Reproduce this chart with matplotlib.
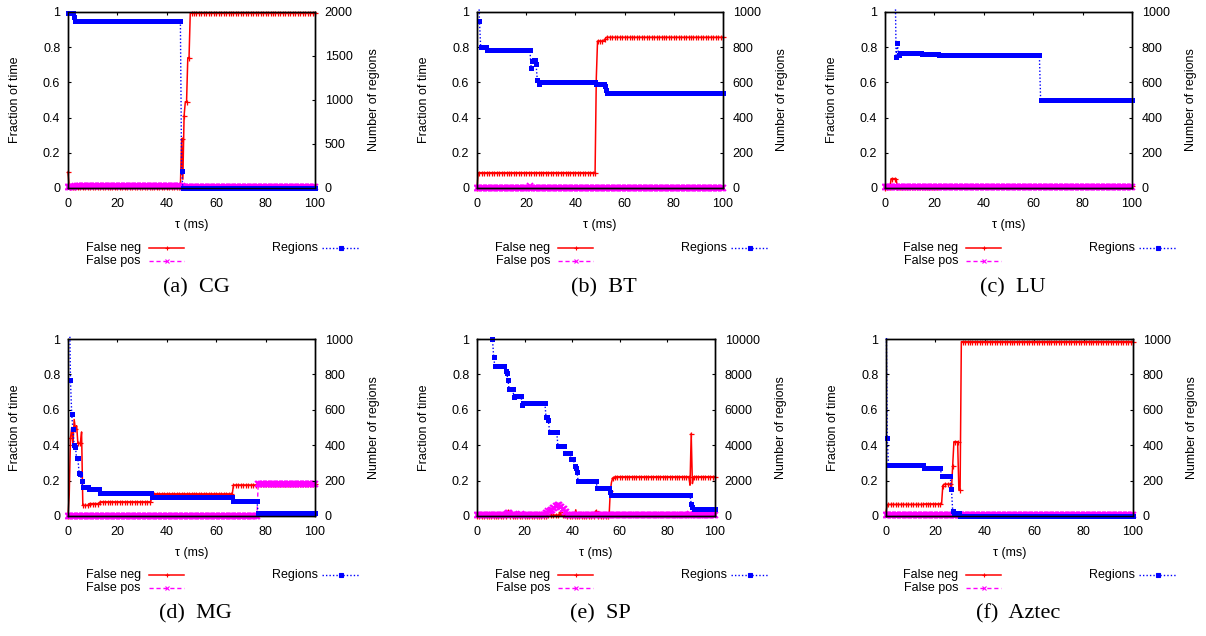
import numpy as np
import matplotlib
matplotlib.use('Agg')
import matplotlib.pyplot as plt
from matplotlib.lines import Line2D
from matplotlib.patches import Rectangle

plt.rcParams['font.family'] = ['Liberation Sans', 'DejaVu Sans']
plt.rcParams['font.size'] = 9

W, H = 1206, 636
TAU = np.arange(0, 100.25, 0.5)

# (tau ms, value) breakpoints, each value holds until the next one
cg_fneg = [(0, 0.09), (0.5, 0.005), (46, 0.28), (46.5, 0.05), (47, 0.41),
           (47.5, 0.49), (48.5, 0.74), (49.5, 0.995)]
cg_fpos = [(0, 0.005), (3, 0.012), (46.5, 0.005)]
cg_regions = [(0, 1985), (2.5, 1940), (3, 1898), (46, 189), (46.5, 0)]

bt_fneg = [(0, 0.0), (0.5, 0.087), (48.5, 0.627), (49, 0.835), (52, 0.845),
           (52.5, 0.856)]
bt_fpos = [(0, 0.002), (21.5, 0.012), (22, 0.002)]
bt_regions = [(0, 1200), (1, 947), (1.5, 800), (4, 786), (22, 682), (22.5, 720),
              (23, 725), (24, 706), (24.5, 615), (25, 593), (25.5, 600),
              (48.5, 590), (52, 578), (52.5, 555), (53, 540), (54, 537)]

lu_fneg = [(0, 0.0), (0.5, 0.005), (2.5, 0.053), (5, 0.005), (22, 0.01)]
lu_fpos = [(0, 0.003)]
lu_regions = [(0, 1300), (4.5, 744), (5, 824), (5.5, 754), (6, 767), (15, 762),
              (22, 757), (63, 502)]

mg_fneg = [(0, 0.0), (0.5, 0.12), (1, 0.44), (1.5, 0.5), (2, 0.4), (2.5, 0.545),
           (3, 0.49), (3.5, 0.51), (4, 0.41), (5.5, 0.475), (6, 0.06),
           (8.5, 0.07), (13, 0.08), (34, 0.125), (67, 0.175), (77, 0.18)]
mg_fpos = [(0, 0.0), (77, 0.18)]
mg_regions = [(0, 1300), (0.5, 1300), (1, 768), (1.5, 575), (2, 490), (2.5, 400),
              (3, 390), (3.5, 325), (4.5, 243), (5, 236), (5.5, 200), (6, 165),
              (8.5, 150), (13, 128), (34, 105), (67, 85), (77, 17)]

sp_fneg = [(0, 0.0), (13, 0.028), (13.5, 0.0), (30, 0.005), (35, 0.02),
           (35.5, 0.005), (38, 0.0), (41.5, 0.035), (42, 0.0), (50, 0.03),
           (50.5, 0.0), (56, 0.14), (56.5, 0.19), (57, 0.215), (58, 0.222),
           (89.5, 0.174), (90, 0.466), (90.5, 0.183), (91, 0.222)]
sp_fpos = [(0, 0.003), (6.5, 0.008), (7, 0.003), (12.5, 0.01), (13, 0.015),
           (14, 0.008), (15.5, 0.012), (16, 0.003), (18.5, 0.01), (19, 0.003),
           (29, 0.015), (30, 0.03), (31, 0.035), (32, 0.045), (33, 0.055),
           (34, 0.06), (35, 0.05), (36, 0.04), (37, 0.02), (38, 0.005),
           (89.5, 0.01), (90, 0.003)]
sp_regions = [(0, 14000), (6.5, 10000), (7, 9000), (7.5, 8450), (12, 8200),
              (12.5, 8060), (13, 7700), (13.5, 7150), (15.5, 6750), (16, 6800),
              (19, 6270), (19.5, 6400), (29, 5600), (30, 5400), (30.5, 4750),
              (34, 3970), (37, 3570), (39.5, 3200), (41, 2830), (41.5, 2700),
              (42, 2500), (42.5, 1970), (50.5, 1580), (56, 1360), (56.5, 1170),
              (90, 700), (90.5, 500), (91, 380)]

az_fneg = [(0, 0.02), (0.5, 0.065), (15.5, 0.068), (23, 0.172), (23.5, 0.18),
           (26.5, 0.15), (27, 0.285), (27.5, 0.42), (29.5, 0.147), (30.5, 0.985)]
az_fpos = [(0, 0.003)]
az_regions = [(0, 1300), (0.5, 440), (1, 289), (15.5, 270), (22.5, 225),
              (26.5, 150), (27, 30), (27.5, 15), (30, 0)]

PANELS = [
    ('(a)  CG', cg_fneg, cg_fpos, cg_regions, 2000, 500),
    ('(b)  BT', bt_fneg, bt_fpos, bt_regions, 1000, 200),
    ('(c)  LU', lu_fneg, lu_fpos, lu_regions, 1000, 200),
    ('(d)  MG', mg_fneg, mg_fpos, mg_regions, 1000, 200),
    ('(e)  SP', sp_fneg, sp_fpos, sp_regions, 10000, 2000),
    ('(f)  Aztec', az_fneg, az_fpos, az_regions, 1000, 200),
]

# plot boxes in pixels: left, top, width, height
BOXES = [(68, 12, 247, 176), (477, 12, 246, 176), (885, 12, 247, 176),
         (68, 339, 247, 177), (477, 339, 238, 177), (886, 339, 247, 177)]
KEY_X = [0, 409, 817, 0, 409, 817]
KEY_Y = [248, 248, 248, 575, 575, 575]
CAPTION_XY = [(196, 288), (604, 288), (1013, 288),
              (195, 614), (600, 614), (1018, 614)]

STYLE = {
    'fneg': dict(color='#ff0000', linestyle='-', linewidth=1.1, marker='+',
                 markersize=3.6, markeredgewidth=0.9),
    'fpos': dict(color='#ff00ff', linestyle=(0, (3, 2)), linewidth=1.0,
                 marker='x', markersize=4.2, markeredgewidth=1.3),
    'regions': dict(color='#0000ff', linestyle=(0, (1, 1.5)), linewidth=1.0,
                    marker='s', markersize=3.6, markeredgewidth=0),
}


def steps(knots):
    t = np.array([k[0] for k in knots])
    v = np.array([k[1] for k in knots], dtype=float)
    return v[np.searchsorted(t, TAU, side='right') - 1]


def draw_key(fig, dx, y):
    rows = [('False neg', 'fneg', 141, 149, 184, y),
            ('False pos', 'fpos', 141, 149, 184, y + 13),
            ('Regions', 'regions', 318, 322, 359, y)]
    for label, key, tx, x1, x2, ty in rows:
        fig.text((dx + tx) / W, 1 - ty / H, label, ha='right', va='center')
        xs = [(dx + x1) / W, (dx + (x1 + x2) / 2) / W, (dx + x2) / W]
        style = dict(STYLE[key], markersize=3.2, markeredgewidth=0.8)
        fig.add_artist(Line2D(xs, [1 - ty / H] * 3, transform=fig.transFigure,
                              markevery=[1], **style))


fig = plt.figure(figsize=(W / 100, H / 100), dpi=100)

for i, (cap, fneg, fpos, regions, rmax, rstep) in enumerate(PANELS):
    l, t, w, h = BOXES[i]
    ax = fig.add_axes([l / W, 1 - (t + h) / H, w / W, h / H])
    ax2 = ax.twinx()

    ax.plot(TAU, steps(fneg), markevery=2, **STYLE['fneg'])
    ax.plot(TAU, steps(fpos), **STYLE['fpos'])
    ax2.plot(TAU, steps(regions), **STYLE['regions'])

    ax.set_xlim(0, 100)
    ax.set_ylim(0, 1)
    ax2.set_ylim(0, rmax)
    ax.set_xticks(range(0, 101, 20))
    ax.set_yticks([0, 0.2, 0.4, 0.6, 0.8, 1])
    ax.set_yticklabels(['0', '0.2', '0.4', '0.6', '0.8', '1'])
    ax2.set_yticks(range(0, rmax + 1, rstep))

    ax.tick_params(axis='x', direction='in', top=True, length=2.5, width=0.8, pad=7)
    ax.tick_params(axis='y', direction='in', right=False, length=2.5, width=0.8, pad=5.5)
    ax2.tick_params(axis='y', direction='in', length=2.5, width=0.8, pad=7)
    for a in (ax, ax2):
        for s in a.spines.values():
            s.set_linewidth(1.0)
        # let points sitting on the frame show in full
        for ln in a.lines:
            ln.set_clip_path(Rectangle((-0.012, -0.02), 1.024, 1.035,
                                       transform=a.transAxes))

    ax.set_xlabel('τ (ms)', labelpad=7)
    ax.set_ylabel('Fraction of time', labelpad=16)
    ax2.set_ylabel('Number of regions', labelpad=11)

    draw_key(fig, KEY_X[i], KEY_Y[i])
    cx, cy = CAPTION_XY[i]
    fig.text(cx / W, 1 - cy / H, cap, ha='center', va='center',
             family='Liberation Serif', fontsize=16)

fig.savefig('out.png', dpi=100)
